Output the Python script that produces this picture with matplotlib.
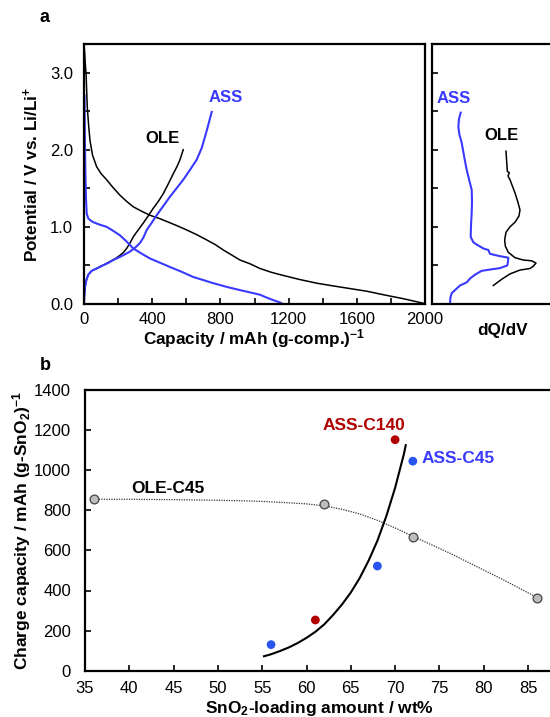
import matplotlib
matplotlib.use('Agg')
import matplotlib.pyplot as plt
from matplotlib.ticker import MultipleLocator

plt.rcParams['font.family'] = ['Liberation Sans', 'DejaVu Sans']
plt.rcParams['mathtext.fontset'] = 'custom'
plt.rcParams['mathtext.rm'] = 'Liberation Sans'
plt.rcParams['mathtext.bf'] = 'Liberation Sans:bold'
plt.rcParams['mathtext.it'] = 'Liberation Sans:italic'

BLUE = '#3a3aff'
BLUE_PT = '#2a55f0'
RED = '#b00000'

# panel a: charge/discharge curves (mAh g-1, V)
ole_dis_cap = [0, 4, 8, 12, 19, 27, 35, 50, 74, 100, 133, 170, 211, 250, 289, 340, 387, 440, 485, 540,
               602, 660, 720, 770, 817, 870, 915, 975, 1032, 1100, 1169, 1260, 1364, 1460, 1560, 1660,
               1756, 1870, 1990]
ole_dis_v = [3.37, 3.25, 3.1, 2.99, 2.56, 2.32, 2.12, 1.93, 1.78, 1.69, 1.61, 1.51, 1.41, 1.33, 1.26,
             1.20, 1.15, 1.11, 1.07, 1.02, 0.96, 0.90, 0.83, 0.77, 0.70, 0.63, 0.57, 0.52, 0.46, 0.41,
             0.37, 0.32, 0.27, 0.235, 0.20, 0.165, 0.12, 0.07, 0.01]
ole_chg_cap = [0, 2, 6, 14, 25, 45, 74, 110, 152, 185, 211, 232, 250, 270, 289, 318, 348, 376, 406,
               436, 465, 495, 524, 545, 563, 582]
ole_chg_v = [0.0, 0.1, 0.22, 0.31, 0.38, 0.43, 0.46, 0.50, 0.55, 0.59, 0.63, 0.67, 0.72, 0.79, 0.87,
             0.96, 1.05, 1.14, 1.24, 1.33, 1.43, 1.56, 1.69, 1.78, 1.87, 2.0]
ass_dis_cap = [3, 5, 8, 12, 16, 25, 40, 55, 90, 133, 170, 211, 250, 289, 340, 387, 440, 504, 570, 641,
               700, 758, 840, 915, 975, 1032, 1075, 1110, 1150, 1165]
ass_dis_v = [2.7, 2.2, 1.7, 1.35, 1.17, 1.11, 1.08, 1.06, 1.03, 1.0, 0.95, 0.89, 0.81, 0.72, 0.65, 0.59,
             0.54, 0.48, 0.42, 0.35, 0.31, 0.27, 0.22, 0.18, 0.15, 0.12, 0.08, 0.05, 0.02, 0.0]
ass_chg_cap = [0, 2, 6, 14, 25, 45, 74, 110, 140, 172, 220, 270, 300, 328, 348, 368, 396, 426, 465,
               504, 543, 582, 622, 661, 690, 710, 730, 749]
ass_chg_v = [0.0, 0.1, 0.22, 0.31, 0.38, 0.43, 0.46, 0.50, 0.53, 0.57, 0.62, 0.68, 0.73, 0.79, 0.86,
             0.96, 1.05, 1.15, 1.27, 1.39, 1.50, 1.61, 1.74, 1.87, 2.02, 2.17, 2.33, 2.49]

# dQ/dV (arbitrary units)
ass_dq = [122, 117, 115, 118, 125, 132, 140, 148, 155, 156, 155, 153, 152, 160, 170, 190, 205, 210,
          240, 265, 264, 262, 240, 215, 185, 165, 150, 140, 120, 110, 95, 91, 90]
ass_dq_v = [2.48, 2.40, 2.30, 2.20, 2.09, 1.92, 1.74, 1.60, 1.48, 1.33, 1.18, 1.02, 0.87, 0.80, 0.77,
            0.72, 0.70, 0.65, 0.62, 0.60, 0.55, 0.50, 0.465, 0.45, 0.43, 0.38, 0.33, 0.28, 0.24, 0.20,
            0.14, 0.08, 0.0]
ole_dq = [258, 260, 262, 268, 264, 270, 278, 285, 293, 300, 297, 285, 270, 258, 254, 256, 265, 285,
          310, 335, 348, 340, 330, 300, 270, 245, 220]
ole_dq_v = [1.98, 1.85, 1.72, 1.70, 1.66, 1.61, 1.52, 1.44, 1.33, 1.22, 1.14, 1.06, 1.00, 0.93, 0.83,
            0.75, 0.67, 0.60, 0.57, 0.56, 0.53, 0.49, 0.46, 0.44, 0.39, 0.32, 0.24]

# panel b
ole_x = [36, 62, 72, 86]
ole_y = [855, 830, 667, 363]
ole_trend_x = [36, 40, 45, 50, 54, 57, 60, 62, 64, 66, 68, 70, 72, 74, 76, 78, 80, 82, 84, 86]
ole_trend_y = [855, 855, 853, 850, 846, 840, 832, 822, 805, 782, 750, 712, 670, 630, 590, 546, 502,
               458, 412, 365]
c140_x = [61, 70]
c140_y = [253, 1152]
c45_x = [56, 68, 72]
c45_y = [130, 522, 1045]
ass_fit_x = [55.2, 56, 57, 58, 59, 60, 61, 62, 63, 64, 65, 66, 67, 68, 69, 70, 71, 71.2]
ass_fit_y = [72, 82, 98, 116, 138, 164, 194, 231, 278, 330, 390, 462, 548, 648, 770, 912, 1082, 1125]

W, H = 550, 717
fig = plt.figure(figsize=(5.5, 7.17), dpi=100)


def box(l, t, r, b):
    return [l / W, 1 - b / H, (r - l) / W, (b - t) / H]


def style(ax, xpad, ypad):
    for s in ax.spines.values():
        s.set_linewidth(1.6)
    ax.tick_params(which='both', direction='in', length=4, width=1.2, labelsize=12)
    ax.tick_params(axis='x', pad=xpad)
    ax.tick_params(axis='y', pad=ypad)


# --- panel a, main
ax1 = fig.add_axes(box(84, 44, 425, 304))
ax1.plot(ole_dis_cap, ole_dis_v, color='black', lw=1.1)
ax1.plot(ole_chg_cap, ole_chg_v, color='black', lw=1.1)
ax1.plot(ass_dis_cap, ass_dis_v, color=BLUE, lw=1.5)
ax1.plot(ass_chg_cap, ass_chg_v, color=BLUE, lw=1.5)
ax1.set_xlim(0, 2000)
ax1.set_ylim(0, 3.37)
ax1.xaxis.set_major_locator(MultipleLocator(400))
ax1.xaxis.set_minor_locator(MultipleLocator(200))
ax1.yaxis.set_major_locator(MultipleLocator(1.0))
ax1.yaxis.set_minor_locator(MultipleLocator(0.5))
ax1.yaxis.set_major_formatter(plt.FormatStrFormatter('%.1f'))
style(ax1, 5.5, 8)
ax1.text(463, 2.14, 'OLE', fontsize=12, fontweight='bold', ha='center', va='center')
ax1.text(833, 2.68, 'ASS', fontsize=12, fontweight='bold', ha='center', va='center', color=BLUE)
ax1.set_xlabel(r'Capacity / mAh (g-comp.)$^{\mathbf{-1}}$', fontsize=12.3, fontweight='bold', labelpad=0)
ax1.set_ylabel(r'Potential / V vs. Li/Li$^{\mathbf{+}}$', fontsize=12.3, fontweight='bold', labelpad=6)

# --- panel a, dQ/dV
ax2 = fig.add_axes(box(431.7, 44, 553.3, 304))
ax2.plot(ass_dq, ass_dq_v, color=BLUE, lw=1.5)
ax2.plot(ole_dq, ole_dq_v, color='black', lw=1.1)
ax2.set_xlim(35, 400)
ax2.set_ylim(0, 3.37)
ax2.set_xticks([])
ax2.yaxis.set_major_locator(MultipleLocator(0.5))
ax2.set_yticklabels([])
style(ax2, 6, 8)
ax2.spines['right'].set_visible(False)
ax2.text(100, 2.67, 'ASS', fontsize=12, fontweight='bold', ha='center', va='center', color=BLUE)
ax2.text(245, 2.18, 'OLE', fontsize=12, fontweight='bold', ha='center', va='center')
fig.text(502 / W, 1 - 330 / H, 'dQ/dV', fontsize=12.3, fontweight='bold', ha='center', va='center')

# --- panel b
ax3 = fig.add_axes(box(85, 390, 554.6, 670.7))
ax3.plot(ole_trend_x, ole_trend_y, color='#333333', lw=0.9, ls=(0, (1, 1)))
ax3.plot(ass_fit_x, ass_fit_y, color='black', lw=1.5)
ax3.scatter(ole_x, ole_y, s=40, color='#bdbdbd', edgecolor='#444444', linewidth=0.9, zorder=3)
ax3.scatter(c140_x, c140_y, s=40, color=RED, edgecolor='none', zorder=3)
ax3.scatter(c45_x, c45_y, s=40, color=BLUE_PT, edgecolor='none', zorder=3)
ax3.set_xlim(35, 88)
ax3.set_ylim(0, 1400)
ax3.xaxis.set_major_locator(MultipleLocator(5))
ax3.yaxis.set_major_locator(MultipleLocator(200))
style(ax3, 7.5, 10)
ax3.spines['right'].set_visible(False)
ax3.text(44.3, 910, 'OLE-C45', fontsize=12.5, fontweight='bold', ha='center', va='center')
ax3.text(66.5, 1225, 'ASS-C140', fontsize=12.5, fontweight='bold', ha='center', va='center', color=RED)
ax3.text(73.0, 1058, 'ASS-C45', fontsize=12.5, fontweight='bold', ha='left', va='center', color=BLUE)
ax3.set_xlabel(r'SnO$_{\mathbf{2}}$-loading amount / wt%', fontsize=12.5, fontweight='bold', labelpad=2)
ax3.set_ylabel(r'Charge capacity / mAh (g-SnO$_{\mathbf{2}}$)$^{\mathbf{-1}}$', fontsize=12.5,
               fontweight='bold', labelpad=1)

fig.text(45 / W, 1 - 18 / H, 'a', fontsize=13, fontweight='bold', ha='center', va='center')
fig.text(45 / W, 1 - 365 / H, 'b', fontsize=13, fontweight='bold', ha='center', va='center')

fig.savefig('out.png', dpi=100)
